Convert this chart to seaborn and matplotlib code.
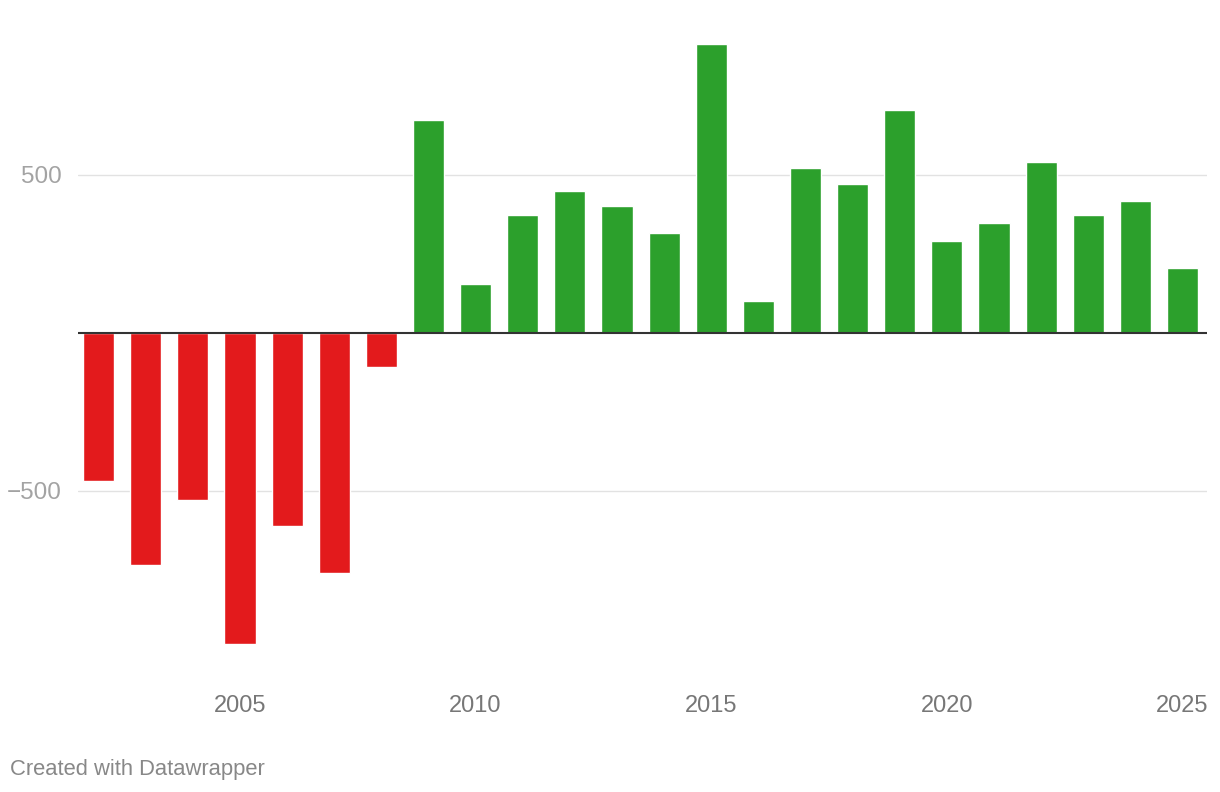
import pandas as pd
import numpy as np
import matplotlib.pyplot as plt
import seaborn as sns

sns.set_style("white")
plt.rcParams['font.family'] = ['Liberation Sans', 'DejaVu Sans']

years = list(range(2002, 2026))
values = [-468, -734, -528, -984, -611, -759, -108,
          674, 155, 373, 449, 402, 316, 915, 101, 522, 472, 706,
          291, 348, 541, 373, 418, 206]
x_ticks = [2005, 2010, 2015, 2020, 2025]
y_ticks = [-500, 500]
y_labels = ['\u2212500', '500']

df = pd.DataFrame({'year': years, 'value': values})
df['sign'] = np.where(df['value'] < 0, 'neg', 'pos')

fig = plt.figure(figsize=(12.2, 7.92), dpi=100)
ax = fig.add_axes([0.064, 0.1414, 0.925, 0.8333])

sns.barplot(data=df, x='year', y='value', hue='sign',
            palette={'neg': '#e31a1c', 'pos': '#2ca02c'},
            native_scale=True, width=0.66, saturation=1,
            legend=False, ax=ax, zorder=2)

ax.set_xlim(2001.565, 2025.51)
ax.set_ylim(-1098, 990)
for v in y_ticks:
    ax.axhline(v, color='#e2e2e2', lw=1, zorder=0)
ax.axhline(0, color='#333333', lw=1.5, zorder=3)

ax.set_xticks(x_ticks)
ax.set_xticklabels([str(t) for t in x_ticks], color='#777777', fontsize=17)
ax.set_yticks(y_ticks)
ax.set_yticklabels(y_labels, color='#a3a3a3', fontsize=17.5)
ax.tick_params(axis='x', length=0, pad=11)
ax.tick_params(axis='y', length=0, pad=12)
ax.set_xlabel('')
ax.set_ylabel('')
for s in ax.spines.values():
    s.set_visible(False)

fig.text(10 / 1220, 1 - 769 / 792, 'Created with Datawrapper',
         color='#888888', fontsize=15.8, va='center', ha='left')

fig.savefig('out.png', dpi=100)
